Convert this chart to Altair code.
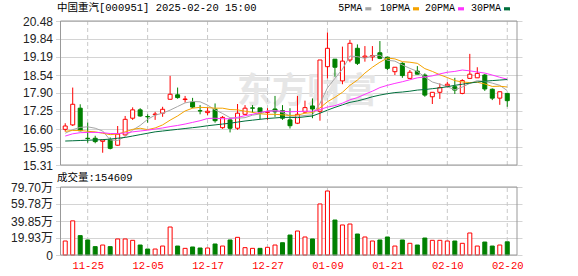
import json
import altair as alt
import pandas as pd
import numpy as np

# ---------------- data ----------------
stock_title = "中国重汽[000951] 2025-02-20 15:00"
vol_title = "成交量:"
watermark = "东方财富"

dates = ["11-20", "11-21", "11-22", "11-25", "11-26", "11-27", "11-28", "11-29", "12-02", "12-03",
         "12-04", "12-05", "12-06", "12-09", "12-10", "12-11", "12-12", "12-13", "12-16", "12-17",
         "12-18", "12-19", "12-20", "12-23", "12-24", "12-25", "12-26", "12-27", "12-30", "12-31",
         "01-02", "01-03", "01-06", "01-07", "01-08", "01-09", "01-10", "01-13", "01-14", "01-15",
         "01-16", "01-17", "01-20", "01-21", "01-22", "01-23", "01-24", "01-27", "02-05", "02-06",
         "02-07", "02-10", "02-11", "02-12", "02-13", "02-14", "02-17", "02-18", "02-19", "02-20"]
shown_dates = ["11-25", "12-05", "12-17", "12-27", "01-09", "01-21", "02-10", "02-20"]

opens = [16.59, 16.75, 17.35, 16.27, 16.27, 16.16, 16.21, 16.02, 16.39, 16.99,
         17.29, 17.05, 17.12, 17.17, 17.67, 17.83, 17.66, 17.57, 17.26, 17.19,
         17.31, 16.65, 16.93, 16.63, 17.13, 17.36, 17.36, 17.20, 17.32, 17.26,
         16.93, 16.81, 17.21, 17.43, 17.24, 18.84, 19.11, 18.33, 19.08, 19.50,
         19.18, 19.19, 19.34, 19.18, 18.66, 18.96, 18.42, 18.68, 18.54, 17.76,
         17.92, 18.15, 18.12, 17.88, 18.42, 18.44, 18.54, 18.03, 17.71, 17.88]
highs = [16.81, 18.09, 17.49, 16.83, 16.36, 16.21, 16.30, 16.71, 17.07, 17.38,
         17.35, 17.13, 17.22, 17.40, 18.51, 18.09, 17.79, 17.72, 17.46, 17.37,
         17.52, 17.07, 16.99, 17.50, 17.46, 17.46, 17.36, 17.35, 17.79, 17.46,
         17.35, 17.79, 17.62, 17.70, 19.08, 20.07, 19.11, 19.56, 19.80, 19.64,
         19.58, 19.58, 19.76, 19.20, 18.82, 19.00, 18.72, 18.86, 18.60, 17.92,
         18.24, 18.30, 18.44, 18.39, 19.30, 18.82, 18.58, 18.06, 17.94, 17.88]
lows = [16.51, 16.71, 16.52, 16.11, 16.09, 15.75, 15.87, 16.00, 16.37, 16.93,
        17.04, 16.83, 16.93, 17.04, 17.67, 17.69, 17.55, 17.35, 17.13, 17.10,
        16.83, 16.61, 16.48, 16.57, 17.11, 17.19, 16.96, 16.93, 17.04, 16.93,
        16.62, 16.78, 17.17, 16.99, 16.90, 18.42, 18.48, 18.21, 19.00, 18.90,
        19.02, 19.05, 19.11, 18.72, 18.54, 18.44, 18.42, 18.57, 17.76, 17.50,
        17.68, 18.10, 17.86, 17.85, 18.42, 18.44, 17.97, 17.64, 17.47, 17.40]
closes = [16.71, 17.49, 16.54, 16.26, 16.15, 16.21, 15.91, 16.42, 16.95, 17.29,
          17.07, 17.04, 17.14, 17.31, 17.85, 17.73, 17.68, 17.39, 17.25, 17.24,
          16.90, 17.02, 16.63, 17.17, 17.35, 17.35, 17.21, 17.22, 17.22, 16.99,
          16.72, 17.13, 17.37, 17.32, 19.08, 19.50, 18.82, 19.04, 19.68, 18.96,
          19.22, 19.24, 19.14, 18.78, 18.82, 18.52, 18.64, 18.57, 17.82, 17.92,
          18.09, 18.21, 18.00, 18.34, 18.57, 18.60, 18.04, 17.71, 17.94, 17.62]
vols = [164000, 400000, 227000, 176000, 98000, 117000, 98000, 188000, 188000, 172000,
        117000, 70000, 70000, 105000, 328000, 105000, 78000, 94000, 82000, 82000,
        129000, 105000, 176000, 207000, 86000, 78000, 78000, 90000, 117000, 144000,
        234000, 281000, 211000, 188000, 598000, 750000, 410000, 352000, 363000, 246000,
        211000, 164000, 176000, 211000, 105000, 176000, 137000, 117000, 199000, 172000,
        172000, 164000, 164000, 137000, 258000, 105000, 152000, 105000, 117000, 154609]
vol_up = [1, 1, 0, 0, 0, 1, 0, 1, 1, 1,
          0, 0, 1, 1, 1, 0, 1, 0, 0, 1,
          0, 1, 0, 1, 1, 1, 0, 1, 1, 0,
          0, 1, 1, 0, 1, 1, 0, 1, 1, 0,
          1, 1, 0, 0, 1, 0, 1, 0, 0, 1,
          1, 1, 0, 1, 1, 1, 0, 0, 1, 0]

ma5 = [16.45, 16.58, 16.66, 16.68, 16.63, 16.53, 16.21, 16.19, 16.33, 16.56,
       16.73, 16.95, 17.10, 17.17, 17.28, 17.41, 17.54, 17.59, 17.58, 17.46,
       17.29, 17.16, 17.01, 16.99, 17.01, 17.10, 17.14, 17.26, 17.27, 17.20,
       17.07, 17.06, 17.09, 17.11, 17.52, 18.08, 18.42, 18.75, 19.22, 19.20,
       19.14, 19.23, 19.25, 19.07, 19.04, 18.90, 18.78, 18.67, 18.47, 18.29,
       18.21, 18.12, 18.01, 18.11, 18.24, 18.34, 18.31, 18.25, 18.17, 17.98]
ma10 = [16.52, 16.55, 16.55, 16.52, 16.50, 16.45, 16.40, 16.42, 16.50, 16.59,
        16.63, 16.58, 16.64, 16.75, 16.92, 17.07, 17.25, 17.35, 17.38, 17.37,
        17.35, 17.35, 17.30, 17.29, 17.24, 17.20, 17.15, 17.13, 17.13, 17.11,
        17.09, 17.10, 17.17, 17.19, 17.36, 17.58, 17.74, 17.92, 18.17, 18.36,
        18.61, 18.82, 19.00, 19.15, 19.12, 19.02, 19.00, 18.96, 18.77, 18.67,
        18.55, 18.45, 18.34, 18.29, 18.27, 18.28, 18.22, 18.13, 18.14, 18.11]
ma20 = [16.35, 16.43, 16.47, 16.48, 16.48, 16.47, 16.44, 16.44, 16.46, 16.50,
        16.53, 16.56, 16.60, 16.64, 16.69, 16.73, 16.78, 16.84, 16.90, 16.98,
        16.99, 16.97, 16.97, 17.02, 17.08, 17.13, 17.20, 17.24, 17.25, 17.24,
        17.22, 17.23, 17.24, 17.24, 17.30, 17.39, 17.44, 17.53, 17.65, 17.73,
        17.85, 17.96, 18.09, 18.17, 18.24, 18.30, 18.37, 18.44, 18.47, 18.51,
        18.58, 18.64, 18.67, 18.72, 18.69, 18.65, 18.61, 18.54, 18.46, 18.39]
ma30 = [16.17, 16.18, 16.19, 16.20, 16.21, 16.22, 16.24, 16.27, 16.30, 16.35,
        16.40, 16.45, 16.50, 16.53, 16.56, 16.59, 16.62, 16.65, 16.68, 16.72,
        16.75, 16.78, 16.81, 16.85, 16.89, 16.92, 16.95, 16.98, 17.00, 17.02,
        17.02, 17.01, 17.04, 17.07, 17.17, 17.28, 17.38, 17.47, 17.56, 17.61,
        17.68, 17.76, 17.82, 17.87, 17.91, 17.93, 17.96, 18.00, 18.02, 18.05,
        18.08, 18.12, 18.17, 18.21, 18.25, 18.29, 18.32, 18.34, 18.36, 18.38]

ma_names = ["5PMA", "10PMA", "20PMA", "30PMA"]
ma_colors = ["#a6a6a6", "#f5a300", "#ff33ff", "#006f3c"]

price_ticks = [15.31, 15.95, 16.60, 17.25, 17.90, 18.54, 19.19, 19.84, 20.48]
vol_ticks = [0, 199300, 398500, 597800, 797000]

# ---------------- tables ----------------
n = len(dates)
df = pd.DataFrame(dict(i=list(range(n)), date=dates, open=opens, high=highs,
                       low=lows, close=closes, vol=vols))
df["dir"] = np.where(df["close"] >= df["open"], "up", "down")
df["vdir"] = ["up" if v else "down" for v in vol_up]

ma_df = pd.concat([pd.DataFrame({"i": list(range(n)), "ma": vals, "series": name})
                   for name, vals in zip(ma_names, [ma5, ma10, ma20, ma30])],
                  ignore_index=True)

tick_idx = [dates.index(d) for d in shown_dates]
tick_df = pd.DataFrame({"i": tick_idx})

# ---------------- layout ----------------
W, H = 466.5, 234
X_LO, X_HI = -0.63, 60.3
P_RANGE = [144, 0]
V_RANGE = [234, 166]
FRAME = "#999999"
GRID = "#d4d4d4"
DASH = "#c8c8c8"
RED, GREEN = "#ff0000", "#008000"

xscale = alt.Scale(domain=[X_LO, X_HI], nice=False, zero=False)
xaxis = alt.Axis(values=tick_idx,
                 labelExpr=json.dumps(dates) + "[datum.value]",
                 grid=False, domain=False, ticks=False, tickSize=0,
                 labelColor=RED, labelFont="Liberation Mono", labelFontSize=10.5,
                 labelPadding=5, labelAngle=0, labelFlush=False, labelOverlap=False,
                 title=None)

pscale = alt.Scale(domain=[price_ticks[0], price_ticks[-1]], range=P_RANGE, nice=False, zero=False)
paxis = alt.Axis(values=price_ticks, format=".2f", orient="left", title=None,
                 domain=False, ticks=False, tickSize=0, labelPadding=3,
                 labelFont="Liberation Sans", labelFontSize=12, labelColor="#222222",
                 grid=True, gridColor=GRID, gridWidth=1, labelFlush=False, labelOverlap=False)

vscale = alt.Scale(domain=[0, vol_ticks[-1]], range=V_RANGE, nice=False, zero=True)
vaxis = alt.Axis(values=vol_ticks, orient="left", title=None,
                 labelExpr="datum.value == 0 ? '0' : format(datum.value / 10000, '.2f') + '万'",
                 domain=False, ticks=False, tickSize=0, labelPadding=3,
                 labelFont="Liberation Sans, Noto Sans CJK SC", labelFontSize=12, labelColor="#222222",
                 grid=True, gridColor=GRID, gridWidth=1, labelFlush=False, labelOverlap=False)

X = alt.X("i:Q", scale=xscale, axis=xaxis)
stroke_enc = alt.Stroke("dir:N", scale=alt.Scale(domain=["up", "down"], range=[RED, GREEN]), legend=None)
fill_enc = alt.Fill("dir:N", scale=alt.Scale(domain=["up", "down"], range=["#ffffff", GREEN]), legend=None)
vstroke_enc = alt.Stroke("vdir:N", scale=alt.Scale(domain=["up", "down"], range=[RED, GREEN]), legend=None)
vfill_enc = alt.Fill("vdir:N", scale=alt.Scale(domain=["up", "down"], range=["#ffffff", GREEN]), legend=None)

one = pd.DataFrame({"k": [0]})

# ---- price panel ----
p_rules = alt.Chart(tick_df).mark_rule(strokeDash=[4, 3], color=DASH, strokeWidth=1).encode(
    x=X,
    y=alt.YDatum(price_ticks[0], type="quantitative", scale=pscale, axis=paxis),
    y2=alt.Y2Datum(price_ticks[-1]),
)
wicks = alt.Chart(df).mark_rule(strokeWidth=1).encode(
    x=X, y=alt.Y("low:Q", scale=pscale, axis=paxis), y2="high:Q", stroke=stroke_enc)
bodies = alt.Chart(df).mark_bar(size=4, strokeWidth=1).encode(
    x=X, y=alt.Y("open:Q", scale=pscale, axis=paxis), y2="close:Q",
    fill=fill_enc, stroke=stroke_enc)
ma_lines = alt.Chart(ma_df).mark_line(strokeWidth=1).encode(
    x=X, y=alt.Y("ma:Q", scale=pscale, axis=paxis),
    color=alt.Color("series:N", scale=alt.Scale(domain=ma_names, range=ma_colors), legend=None),
    order="i:Q")
p_frame = alt.Chart(one).mark_rect(filled=False, stroke=FRAME, strokeWidth=1).encode(
    x=alt.XDatum(X_LO, type="quantitative", scale=xscale, axis=xaxis),
    x2=alt.X2Datum(X_HI),
    y=alt.YDatum(price_ticks[0], type="quantitative", scale=pscale, axis=paxis),
    y2=alt.Y2Datum(price_ticks[-1]),
)
price_group = alt.layer(p_rules, wicks, bodies, ma_lines, p_frame)

# ---- volume panel ----
v_rules = alt.Chart(tick_df).mark_rule(strokeDash=[4, 3], color=DASH, strokeWidth=1).encode(
    x=X,
    y=alt.YDatum(0, type="quantitative", scale=vscale, axis=vaxis),
    y2=alt.Y2Datum(vol_ticks[-1]),
)
vbars = alt.Chart(df).mark_bar(size=4, strokeWidth=1).encode(
    x=X, y=alt.Y("vol:Q", scale=vscale, axis=vaxis),
    fill=vfill_enc, stroke=vstroke_enc)
v_frame = alt.Chart(one).mark_rect(filled=False, stroke=FRAME, strokeWidth=1).encode(
    x=alt.XDatum(X_LO, type="quantitative", scale=xscale, axis=xaxis),
    x2=alt.X2Datum(X_HI),
    y=alt.YDatum(0, type="quantitative", scale=vscale, axis=vaxis),
    y2=alt.Y2Datum(vol_ticks[-1]),
)
vol_group = alt.layer(v_rules, vbars, v_frame)

# ---- texts ----
mark_font = "Liberation Mono, Noto Sans CJK SC"
wm = alt.Chart(pd.DataFrame({"t": [watermark]})).mark_text(
    font="Noto Sans CJK SC", fontSize=35, fontWeight="bold", color="#e6e6e6",
    align="center", baseline="middle").encode(
    x=alt.value(251.5), y=alt.value(71), text="t:N")
title = alt.Chart(pd.DataFrame({"t": [stock_title]})).mark_text(
    font=mark_font, fontSize=10.5, color="#000000", align="left", baseline="middle").encode(
    x=alt.value(1.5), y=alt.value(-12.7), text="t:N")
vtitle = alt.Chart(pd.DataFrame({"t": [vol_title + str(vols[-1])]})).mark_text(
    font=mark_font, fontSize=10.5, color="#000000", align="left", baseline="middle").encode(
    x=alt.value(1.5), y=alt.value(156.7), text="t:N")

legend_layers = []
legend_x = [282.8, 324.5, 369.5, 415.5]
for name, col, tx in zip(ma_names, ma_colors, legend_x):
    legend_layers.append(alt.Chart(pd.DataFrame({"t": [name]})).mark_text(
        font="Liberation Mono", fontSize=10, color="#000000", align="left", baseline="middle").encode(
        x=alt.value(tx), y=alt.value(-12.7), text="t:N"))
    sx = tx + 6 * len(name) + 3
    legend_layers.append(alt.Chart(pd.DataFrame({"t": [name]})).mark_rect(color=col).encode(
        x=alt.value(sx), x2=alt.value(sx + 6), y=alt.value(-13.8), y2=alt.value(-10.6)))

chart = alt.layer(wm, price_group, vol_group, title, vtitle, *legend_layers).resolve_scale(
    y="independent"
).properties(
    width=W, height=H,
    autosize=alt.AutoSizeParams(type="none"),
    padding={"left": 55.5, "top": 21, "right": 56, "bottom": 21},
    background="#ffffff",
).configure_view(strokeWidth=0)

chart.save("out.html", embed_options={"renderer": "svg", "actions": False})
